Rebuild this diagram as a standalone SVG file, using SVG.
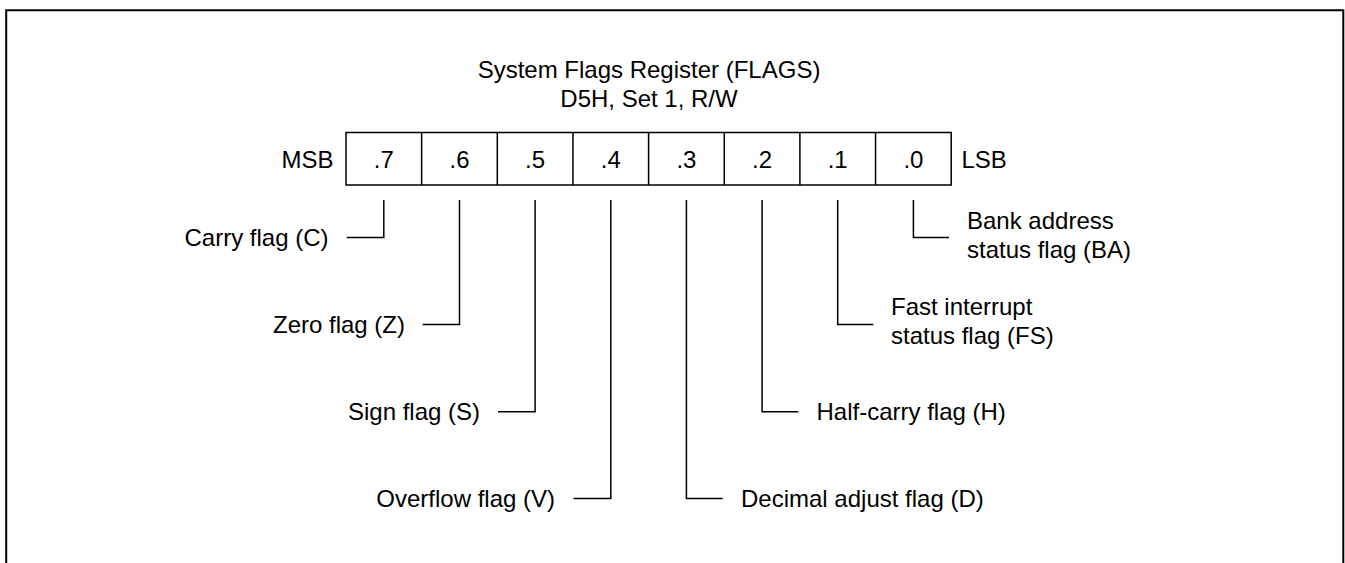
<svg xmlns="http://www.w3.org/2000/svg" width="1345" height="563" viewBox="0 0 1345 563">
<style>
text{font-family:"Liberation Sans",Arial,sans-serif;font-size:24px;fill:#000}
.c{text-anchor:middle}
.e{text-anchor:end}
.ln{fill:none;stroke:#000;stroke-width:1.5}
</style>
<rect x="0" y="0" width="1345" height="563" fill="#fff"/>
<path d="M6.2,563 V10.3 H1343.3 V563" fill="none" stroke="#000" stroke-width="2"/>
<g id="title">
<text class="c" x="649" y="77.5">System Flags Register (FLAGS)</text>
<text class="c" x="649" y="106.5">D5H, Set 1, R/W</text>
</g>
<g id="register">
<rect class="ln" x="346" y="132.5" width="605.2" height="52.5"/>
<path class="ln" d="M421.65,132.5V185M497.3,132.5V185M572.95,132.5V185M648.6,132.5V185M724.25,132.5V185M799.9,132.5V185M875.55,132.5V185"/>
<text class="c" x="383.8" y="167.5">.7</text>
<text class="c" x="459.5" y="167.5">.6</text>
<text class="c" x="535.1" y="167.5">.5</text>
<text class="c" x="610.8" y="167.5">.4</text>
<text class="c" x="686.4" y="167.5">.3</text>
<text class="c" x="762.1" y="167.5">.2</text>
<text class="c" x="837.7" y="167.5">.1</text>
<text class="c" x="913.4" y="167.5">.0</text>
<text class="e" x="333.5" y="167.5">MSB</text>
<text x="961.5" y="167.5">LSB</text>
</g>
<g id="connectors">
<path class="ln" d="M383.8,200V237.5H346.7"/>
<path class="ln" d="M459.5,200V324.5H422.7"/>
<path class="ln" d="M535.1,200V411.7H498"/>
<path class="ln" d="M610.8,200V498.5H573.5"/>
<path class="ln" d="M686.4,200V498.5H722.7"/>
<path class="ln" d="M762.1,200V411.7H798.3"/>
<path class="ln" d="M837.7,200V324.5H873.3"/>
<path class="ln" d="M913.4,200V237.5H949"/>
</g>
<g id="carry"><text class="e" x="328.5" y="246">Carry flag (C)</text></g>
<g id="zero"><text class="e" x="405" y="333">Zero flag (Z)</text></g>
<g id="sign"><text class="e" x="480" y="420.2">Sign flag (S)</text></g>
<g id="overflow"><text class="e" x="555" y="507">Overflow flag (V)</text></g>
<g id="decimal"><text x="741" y="507">Decimal adjust flag (D)</text></g>
<g id="halfcarry"><text x="816.5" y="420.2">Half-carry flag (H)</text></g>
<g id="fast"><text x="891" y="315.3">Fast interrupt</text><text x="891" y="344.3">status flag (FS)</text></g>
<g id="bank"><text x="967" y="228.5">Bank address</text><text x="967" y="257.5">status flag (BA)</text></g>
</svg>
